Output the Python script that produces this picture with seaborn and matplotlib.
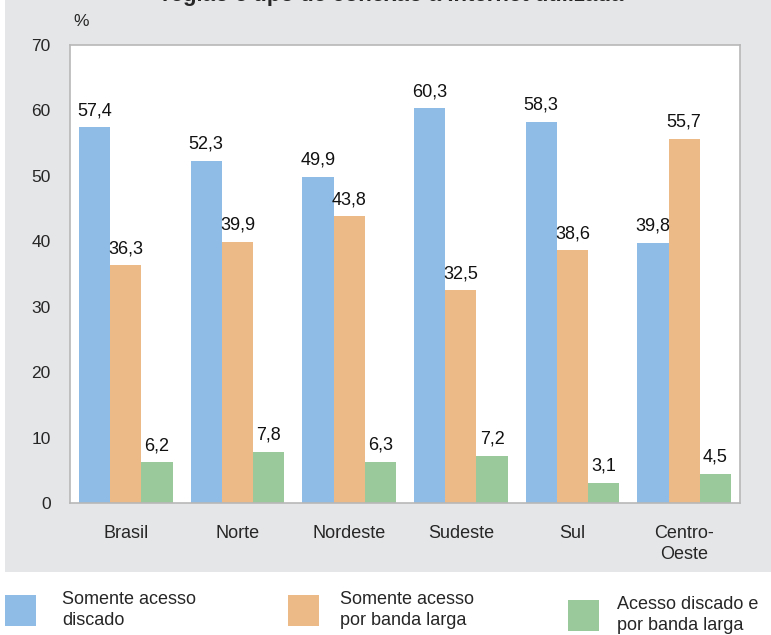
import matplotlib
matplotlib.use("Agg")
import matplotlib.pyplot as plt
from matplotlib.patches import Rectangle
import seaborn as sns
import pandas as pd

regions = ["Brasil", "Norte", "Nordeste", "Sudeste", "Sul", "Centro-\nOeste"]
series_names = ["Somente acesso\ndiscado", "Somente acesso\npor banda larga", "Acesso discado e\npor banda larga"]
discado = [57.4, 52.3, 49.9, 60.3, 58.3, 39.8]
banda_larga = [36.3, 39.9, 43.8, 32.5, 38.6, 55.7]
ambos = [6.2, 7.8, 6.3, 7.2, 3.1, 4.5]
yticks = [0, 10, 20, 30, 40, 50, 60, 70]
colors = ["#8EBCE6", "#ECBA86", "#9AC99C"]

rows = []
for name, vals in zip(series_names, [discado, banda_larga, ambos]):
    for r, v in zip(regions, vals):
        rows.append({"regiao": r, "serie": name, "valor": v})
df = pd.DataFrame(rows)

sns.set_theme(style="white")
plt.rcParams['font.family'] = ['Liberation Sans', 'DejaVu Sans']

W, H = 771, 635
fig = plt.figure(figsize=(W / 100, H / 100), dpi=100)
fig.patch.set_facecolor("white")
bg = Rectangle((5 / W, 1 - 572 / H), 1 - 5 / W, 572 / H,
               transform=fig.transFigure, facecolor="#E5E6E8",
               edgecolor="none", zorder=-10)
fig.patches.append(bg)

ax = fig.add_axes([70 / W, 1 - 503 / H, 670 / W, 458 / H])
ax.set_zorder(1)
ax.set_facecolor("white")
sns.barplot(data=df, x="regiao", y="valor", hue="serie", palette=colors,
            width=0.84, gap=0, saturation=1, ax=ax, legend=False, errorbar=None,
            linewidth=0)

for cont in ax.containers:
    ax.bar_label(cont, labels=[f"{b.get_height():.1f}".replace(".", ",") for b in cont],
                 padding=6, fontsize=13, color="#111111")

ax.set_ylim(0, 70)
ax.set_yticks(yticks)
ax.set_yticklabels([str(t) for t in yticks], fontsize=12.5)
ax.set_xlim(-0.5, len(regions) - 0.5)
ax.tick_params(axis="x", length=0, pad=16, labelsize=13)
ax.tick_params(axis="y", length=0, pad=14)
for lab in ax.get_xticklabels():
    lab.set_linespacing(1.3)
ax.set_xlabel("")
ax.set_ylabel("")
for s in ax.spines.values():
    s.set_color("#B8B8B8")
    s.set_linewidth(1.2)

fig.text(73 / W, 1 - 22 / H, "%", fontsize=12.5, ha="left", va="center")
fig.text(162 / W, 1 - 1.5 / H, "região e tipo de conexão à Internet utilizada",
         fontsize=16, fontweight="bold", ha="left", va="baseline")

# legend
leg_x = [5, 288, 568]
leg_y = [595, 595, 600]
for i, name in enumerate(series_names):
    fig.patches.append(Rectangle((leg_x[i] / W, 1 - (leg_y[i] + 31) / H), 31 / W, 31 / H,
                                 transform=fig.transFigure, facecolor=colors[i],
                                 edgecolor="none"))
    fig.text([62, 340, 617][i] / W, 1 - (leg_y[i] + 15) / H, name, fontsize=13,
             ha="left", va="center", linespacing=1.35)

fig.savefig("out.png", dpi=100)
